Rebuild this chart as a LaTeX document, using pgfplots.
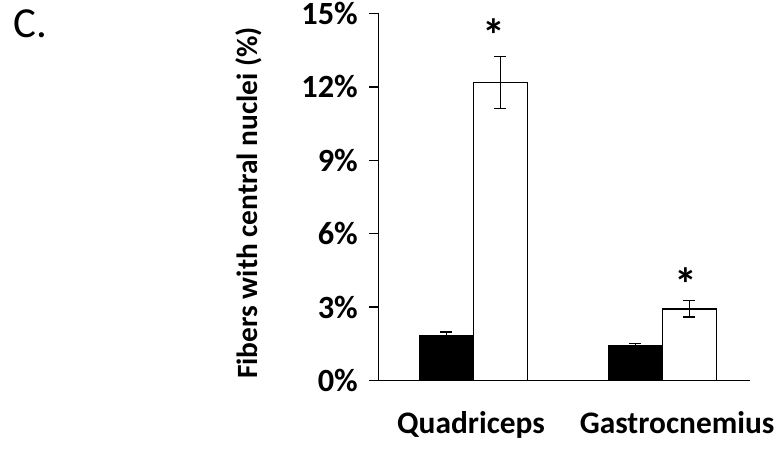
\documentclass[border=0pt]{standalone}
\usepackage{pgfplots}
\pgfplotsset{compat=1.18}
\usepackage{fontspec}
\setmainfont{Carlito}
\begin{document}
\begin{tikzpicture}
\useasboundingbox (0,0) rectangle (779bp,454bp);
\node[anchor=base west, font=\fontsize{43}{46}\selectfont, inner sep=0pt] at (13bp,416bp) {C.};
\begin{axis}[
  at={(378.3bp,73.3bp)}, anchor=south west,
  scale only axis, width=371.7bp, height=367.4bp,
  xmin=-0.504, xmax=1.464, ymin=0, ymax=15,
  axis x line*=bottom, axis y line*=left,
  axis line style={-, line width=1.5bp},
  ytick={0,3,6,9,12,15},
  yticklabels={0\%,3\%,6\%,9\%,12\%,15\%},
  tick align=outside, major tick length=9bp,
  tick style={line width=1.5bp, black},
  yticklabel style={font=\fontsize{32.5}{34}\selectfont\bfseries, xshift=-8bp},
  xtick={-0.013,1.078},
  xticklabels={Quadriceps,Gastrocnemius},
  x tick style={draw=none},
  xticklabel style={font=\fontsize{31.5}{34}\selectfont\bfseries, yshift=-18bp},
  ylabel={Fibers with central nuclei (\%)},
  ylabel style={at={(axis description cs:-0.348,0.484)}, anchor=center, rotate=0, font=\fontsize{29.5}{32}\selectfont\bfseries},
  ybar=0pt, bar width=54bp,
  clip=false,
]
\addplot[fill=black, draw=black, line width=1.5bp,
  error bars/.cd, y dir=both, y explicit,
  error bar style={line width=1.2bp, black},
  error mark options={rotate=90, mark size=6bp, line width=1.2bp, black}]
  coordinates {(0,1.84) +- (0,0.15) (1,1.42) +- (0,0.11)};
\addplot[fill=white, draw=black, line width=1.5bp,
  error bars/.cd, y dir=both, y explicit,
  error bar style={line width=1.2bp, black},
  error mark options={rotate=90, mark size=6bp, line width=1.2bp, black}]
  coordinates {(0,12.17) +- (0,1.05) (1,2.93) +- (0,0.33)};
\node[font=\fontsize{46}{46}\selectfont\bfseries] at (axis cs:0.11,14.1) {*};
\node[font=\fontsize{46}{46}\selectfont\bfseries] at (axis cs:1.125,3.95) {*};
\end{axis}
\end{tikzpicture}
\end{document}
